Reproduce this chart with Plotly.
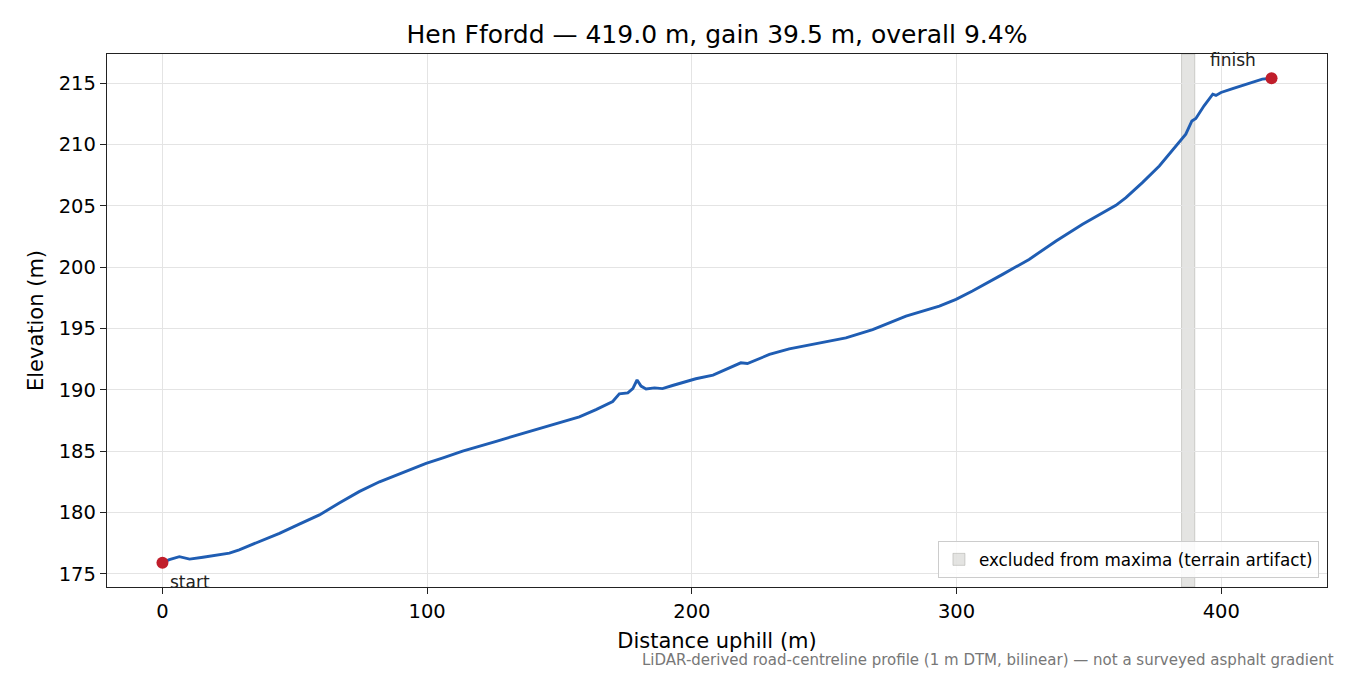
import plotly.graph_objects as go

# profile
distance_m = [0, 2.6, 6.4, 10.25, 15.3, 19.0, 25.3, 29.0, 36.7, 44.2, 51.7, 59.3, 66.8, 74.3,
              82.0, 93.3, 99.6, 106.0, 113.4, 126.1, 138.6, 151.2, 157.5, 163.8, 170.1,
              172.6, 175.8, 177.7, 179.3, 180.8, 182.7, 185.9, 188.9, 192.7, 196.5, 201.5,
              208.0, 214.2, 218.5, 221.0, 229.3, 236.8, 249.4, 258.2, 268.3, 280.9, 293.5,
              299.8, 306.0, 312.4, 317.4, 327.4, 337.6, 347.6, 355.2, 360.2, 364.0, 370.2,
              376.6, 382.9, 386.6, 388.9, 390.4, 393.5, 396.8, 398.0, 399.9, 404.3, 410.5,
              415.5, 419]
elevation_m = [175.9, 176.15, 176.4, 176.2, 176.35, 176.47, 176.69, 176.96, 177.64, 178.3,
               179.05, 179.8, 180.77, 181.7, 182.5, 183.5, 184.0, 184.45, 185.0, 185.8,
               186.6, 187.43, 187.8, 188.39, 189.05, 189.67, 189.75, 190.1, 190.8, 190.3,
               190.07, 190.16, 190.1, 190.35, 190.6, 190.9, 191.2, 191.78, 192.2, 192.14,
               192.88, 193.34, 193.89, 194.24, 194.9, 196.0, 196.82, 197.37, 198.05,
               198.78, 199.41, 200.63, 202.13, 203.49, 204.39, 205.04, 205.67, 206.89,
               208.25, 209.88, 210.84, 211.92, 212.12, 213.15, 214.1, 214.0, 214.24,
               214.56, 215.0, 215.33, 215.4]

excluded_from, excluded_to = 385, 390
x_ticks = [0, 100, 200, 300, 400]
y_ticks = [175, 180, 185, 190, 195, 200, 205, 210, 215]

road = "Hen Ffordd"
length = distance_m[-1]
gain = elevation_m[-1] - elevation_m[0]
title = f"{road} — {length:.1f} m, gain {gain:.1f} m, overall {100 * gain / length:.1f}%"

pad_x = 0.05 * (distance_m[-1] - distance_m[0])
pad_y = 0.05 * (max(elevation_m) - min(elevation_m))

fig = go.Figure()
fig.add_trace(go.Scatter(x=distance_m, y=elevation_m, mode="lines",
                         line=dict(color="#1f5db3", width=2.9), showlegend=False))
fig.add_trace(go.Scatter(x=[distance_m[0], distance_m[-1]],
                         y=[elevation_m[0], elevation_m[-1]], mode="markers",
                         marker=dict(color="#c01e2b", size=12), showlegend=False))

fig.add_shape(type="rect", xref="x", yref="y domain", x0=excluded_from, x1=excluded_to,
              y0=0, y1=1, fillcolor="rgba(190,190,185,0.42)",
              line=dict(color="rgba(160,160,155,0.45)", width=1), layer="below",
              showlegend=True, name="excluded from maxima (terrain artifact)")

fig.add_annotation(x=distance_m[0], y=elevation_m[0], text="start", showarrow=False,
                   xanchor="left", yanchor="middle", xshift=6, yshift=-19,
                   font=dict(size=17, color="#222"))
fig.add_annotation(x=distance_m[-1], y=elevation_m[-1], text="finish", showarrow=False,
                   xanchor="right", yanchor="middle", xshift=-14, yshift=18,
                   font=dict(size=17, color="#222"))
fig.add_annotation(xref="paper", yref="paper", x=1.0074, y=-0.137,
                   text="LiDAR-derived road-centreline profile (1 m DTM, bilinear) — not a surveyed asphalt gradient",
                   showarrow=False, xanchor="right", yanchor="middle",
                   font=dict(size=15, color="#777"))

axis_style = dict(showline=True, linecolor="#222", linewidth=1.3, mirror=True,
                  ticks="outside", ticklen=6, tickwidth=1.2, tickcolor="#222",
                  showgrid=True, gridcolor="#e4e4e4", gridwidth=1, zeroline=False,
                  tickfont=dict(size=19.5, color="black"))

fig.update_xaxes(range=[distance_m[0] - pad_x, distance_m[-1] + pad_x], tickvals=x_ticks,
                 title=dict(text="Distance uphill (m)", font=dict(size=21), standoff=11),
                 **axis_style)
fig.update_yaxes(range=[min(elevation_m) - pad_y, max(elevation_m) + pad_y], tickvals=y_ticks,
                 title=dict(text="Elevation (m)", font=dict(size=21), standoff=9),
                 **axis_style)

fig.update_layout(
    width=1350, height=675,
    margin=dict(l=107, r=23, t=54, b=88),
    paper_bgcolor="white", plot_bgcolor="white",
    font=dict(family="DejaVu Sans", color="black"),
    title=dict(text=title, x=0.5, xref="paper", y=1 - 34 / 675, yanchor="middle",
               font=dict(size=25)),
    legend=dict(x=0.9934, y=0.017, xanchor="right", yanchor="bottom",
                bgcolor="rgba(255,255,255,0.85)", bordercolor="#cccccc", borderwidth=1,
                font=dict(size=16.8)),
)

fig.write_html("out.html", config={"displayModeBar": False},
               post_script="document.body.style.margin = '0';")
